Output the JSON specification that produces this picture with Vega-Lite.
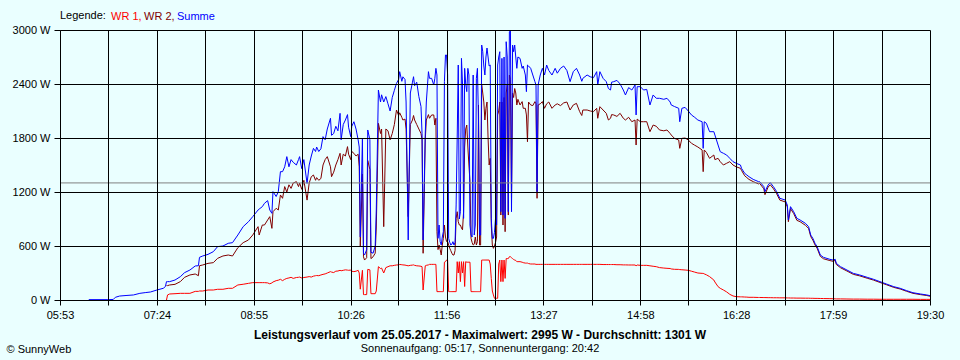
{
  "$schema": "https://vega.github.io/schema/vega-lite/v6.json",
  "width": 870,
  "height": 270,
  "autosize": {"type": "none"},
  "padding": {"left": 60, "top": 30, "right": 30, "bottom": 60},
  "background": "#EAFFFF",
  "config": {"view": {"stroke": null}},
  "title": {
    "text": "Leistungsverlauf vom 25.05.2017 - Maximalwert: 2995 W - Durchschnitt: 1301 W",
    "subtitle": "Sonnenaufgang: 05:17, Sonnenuntergang: 20:42",
    "orient": "bottom", "anchor": "middle", "frame": "group", "offset": -24, "dx": -15,
    "font": "Liberation Sans", "fontSize": 12, "fontWeight": "bold", "color": "#000000",
    "subtitleFont": "Liberation Sans", "subtitleFontSize": 11, "subtitleColor": "#000000", "subtitlePadding": 1
  },
  "data": {
    "format": {"parse": {"t": "utc:'%H:%M'"}},
    "values": [
      {"t":"06:20","Summe":4},{"t":"06:38","Summe":4},{"t":"06:43","Summe":6},{"t":"06:45","Summe":30},
      {"t":"06:49","Summe":44},{"t":"06:55","Summe":50},{"t":"07:02","Summe":56},{"t":"07:08","Summe":74},
      {"t":"07:13","Summe":82},{"t":"07:18","Summe":89},{"t":"07:24","Summe":111},{"t":"07:30","Summe":130},
      {"t":"07:32","Summe":150},
      {"t":"07:33","WR 1":0,"WR 2":160,"Summe":204},{"t":"07:34","WR 1":56,"WR 2":160,"Summe":204},
      {"t":"07:36","WR 1":67,"WR 2":167,"Summe":204},{"t":"07:41","WR 1":70,"WR 2":174,"Summe":222},
      {"t":"07:46","WR 1":74,"WR 2":204,"Summe":259},{"t":"07:50","WR 1":74,"WR 2":252,"Summe":304},
      {"t":"07:55","WR 1":74,"WR 2":278,"Summe":333},{"t":"08:00","WR 1":96,"WR 2":289,"Summe":378},
      {"t":"08:03","WR 1":96,"WR 2":270,"Summe":381},{"t":"08:04","WR 1":100,"WR 2":381,"Summe":474},
      {"t":"08:07","WR 1":100,"WR 2":389,"Summe":489},{"t":"08:12","WR 1":111,"WR 2":407,"Summe":507},
      {"t":"08:17","WR 1":111,"WR 2":415,"Summe":537},{"t":"08:21","WR 1":119,"WR 2":463,"Summe":593},
      {"t":"08:26","WR 1":119,"WR 2":489,"Summe":600},{"t":"08:31","WR 1":130,"WR 2":500,"Summe":630},
      {"t":"08:35","WR 1":130,"WR 2":489,"Summe":637},{"t":"08:40","WR 1":167,"WR 2":581,"Summe":722},
      {"t":"08:45","WR 1":175,"WR 2":637,"Summe":815},{"t":"08:50","WR 1":185,"WR 2":667,"Summe":870},
      {"t":"08:54","WR 1":193,"WR 2":722,"Summe":926},{"t":"08:59","WR 1":193,"WR 2":815,"Summe":1000},
      {"t":"09:00","WR 1":193,"WR 2":722,"Summe":1010},{"t":"09:03","WR 1":193,"WR 2":833,"Summe":1037},
      {"t":"09:05","WR 1":193,"WR 2":833,"Summe":1074},{"t":"09:08","WR 1":190,"WR 2":889,"Summe":1104},
      {"t":"09:10","WR 1":180,"WR 2":926,"Summe":1000},{"t":"09:12","WR 1":190,"WR 2":796,"Summe":963},
      {"t":"09:13","WR 1":200,"WR 2":981,"Summe":1204},{"t":"09:16","WR 1":215,"WR 2":1019,"Summe":1150},
      {"t":"09:18","WR 1":220,"WR 2":1000,"Summe":1204},{"t":"09:20","WR 1":230,"WR 2":1167,"Summe":1426},
      {"t":"09:22","WR 1":215,"WR 2":1130,"Summe":1426},{"t":"09:24","WR 1":230,"WR 2":1260,"Summe":1480},
      {"t":"09:26","WR 1":240,"WR 2":1200,"Summe":1593},{"t":"09:28","WR 1":245,"WR 2":1280,"Summe":1480},
      {"t":"09:30","WR 1":252,"WR 2":1240,"Summe":1560},{"t":"09:32","WR 1":240,"WR 2":1300,"Summe":1530},
      {"t":"09:35","WR 1":250,"WR 2":1315,"Summe":1500},{"t":"09:37","WR 1":252,"WR 2":1260,"Summe":1560},
      {"t":"09:38","WR 1":255,"WR 2":1300,"Summe":1593},{"t":"09:40","WR 1":245,"WR 2":1230,"Summe":1460},
      {"t":"09:42","WR 1":250,"WR 2":1330,"Summe":1560},{"t":"09:45","WR 1":255,"WR 2":1110,"Summe":1296},
      {"t":"09:47","WR 1":260,"WR 2":1300,"Summe":1500},{"t":"09:49","WR 1":255,"WR 2":1370,"Summe":1600},
      {"t":"09:51","WR 1":265,"WR 2":1389,"Summe":1685},{"t":"09:53","WR 1":270,"WR 2":1330,"Summe":1650},
      {"t":"09:54","WR 1":272,"WR 2":1360,"Summe":1700},{"t":"09:56","WR 1":270,"WR 2":1330,"Summe":1650},
      {"t":"09:58","WR 1":278,"WR 2":1350,"Summe":1680},{"t":"10:00","WR 1":285,"WR 2":1500,"Summe":1815},
      {"t":"10:02","WR 1":290,"WR 2":1560,"Summe":1780},{"t":"10:04","WR 1":300,"WR 2":1593,"Summe":1900},
      {"t":"10:07","WR 1":315,"WR 2":1480,"Summe":2019},{"t":"10:08","WR 1":310,"WR 2":1370,"Summe":1830},
      {"t":"10:10","WR 1":305,"WR 2":1420,"Summe":1850},{"t":"10:12","WR 1":320,"WR 2":1500,"Summe":1930},
      {"t":"10:14","WR 1":322,"WR 2":1560,"Summe":1880},{"t":"10:16","WR 1":330,"WR 2":1630,"Summe":2074},
      {"t":"10:17","WR 1":325,"WR 2":1500,"Summe":1780},{"t":"10:19","WR 1":330,"WR 2":1620,"Summe":1950},
      {"t":"10:21","WR 1":335,"WR 2":1600,"Summe":2000},{"t":"10:23","WR 1":332,"WR 2":1704,"Summe":2060},
      {"t":"10:24","WR 1":330,"WR 2":1620,"Summe":1920},{"t":"10:26","WR 1":333,"WR 2":1560,"Summe":1815},
      {"t":"10:27","WR 1":320,"WR 2":1650,"Summe":1930},{"t":"10:29","WR 1":315,"WR 2":1630,"Summe":1981},
      {"t":"10:31","WR 1":320,"WR 2":1600,"Summe":1900},{"t":"10:33","WR 1":330,"WR 2":1620,"Summe":1778},
      {"t":"10:34","WR 1":300,"WR 2":1480,"Summe":1700},{"t":"10:35","WR 1":120,"WR 2":600,"Summe":700},
      {"t":"10:37","WR 1":330,"WR 2":1400,"Summe":1800},{"t":"10:38","WR 1":60,"WR 2":480,"Summe":519},
      {"t":"10:39","WR 1":60,"WR 2":444,"Summe":500},{"t":"10:41","WR 1":60,"WR 2":470,"Summe":560},
      {"t":"10:42","WR 1":340,"WR 2":1550,"Summe":1889},{"t":"10:44","WR 1":335,"WR 2":1450,"Summe":1780},
      {"t":"10:45","WR 1":70,"WR 2":460,"Summe":530},{"t":"10:47","WR 1":70,"WR 2":480,"Summe":520},
      {"t":"10:49","WR 1":70,"WR 2":520,"Summe":600},{"t":"10:50","WR 1":100,"WR 2":800,"Summe":1000},
      {"t":"10:52","WR 1":370,"WR 2":1963,"Summe":2333},{"t":"10:54","WR 1":350,"WR 2":1850,"Summe":2200},
      {"t":"10:55","WR 1":355,"WR 2":1900,"Summe":2280},{"t":"10:57","WR 1":300,"WR 2":815,"Summe":2200},
      {"t":"10:59","WR 1":360,"WR 2":1900,"Summe":2260},{"t":"11:01","WR 1":370,"WR 2":1880,"Summe":2180},
      {"t":"11:03","WR 1":380,"WR 2":1780,"Summe":2100},{"t":"11:05","WR 1":380,"WR 2":1850,"Summe":2250},
      {"t":"11:07","WR 1":385,"WR 2":1950,"Summe":2330},{"t":"11:09","WR 1":389,"WR 2":2111,"Summe":2407},
      {"t":"11:11","WR 1":390,"WR 2":2050,"Summe":2450},{"t":"11:12","WR 1":395,"WR 2":2080,"Summe":2537},
      {"t":"11:14","WR 1":392,"WR 2":2030,"Summe":2430},{"t":"11:15","WR 1":390,"WR 2":2000,"Summe":2480},
      {"t":"11:17","WR 1":388,"WR 2":2010,"Summe":2450},{"t":"11:18","WR 1":385,"WR 2":1900,"Summe":2200},
      {"t":"11:20","WR 1":380,"WR 2":926,"Summe":667},{"t":"11:22","WR 1":385,"WR 2":1950,"Summe":2300},
      {"t":"11:24","WR 1":388,"WR 2":2000,"Summe":2420},{"t":"11:25","WR 1":390,"WR 2":2050,"Summe":2481},
      {"t":"11:26","WR 1":385,"WR 2":2000,"Summe":2380},{"t":"11:28","WR 1":380,"WR 2":1950,"Summe":2420},
      {"t":"11:30","WR 1":378,"WR 2":1900,"Summe":2260},{"t":"11:32","WR 1":375,"WR 2":1850,"Summe":2150},
      {"t":"11:33","WR 1":370,"WR 2":1780,"Summe":1850},{"t":"11:34","WR 1":111,"WR 2":519,"Summe":667},
      {"t":"11:36","WR 1":380,"WR 2":1780,"Summe":1850},{"t":"11:37","WR 1":385,"WR 2":2000,"Summe":2200},
      {"t":"11:39","WR 1":390,"WR 2":2060,"Summe":2537},{"t":"11:40","WR 1":396,"WR 2":2019,"Summe":2463},
      {"t":"11:42","WR 1":396,"WR 2":2056,"Summe":2463},{"t":"11:44","WR 1":396,"WR 2":2056,"Summe":2389},
      {"t":"11:45","WR 1":396,"WR 2":1944,"Summe":2463},{"t":"11:46","WR 1":396,"WR 2":2019,"Summe":2574},
      {"t":"11:47","WR 1":93,"WR 2":759,"Summe":2500},{"t":"11:48","WR 1":93,"WR 2":560,"Summe":685},
      {"t":"11:49","WR 1":93,"WR 2":611,"Summe":833},{"t":"11:50","WR 1":93,"WR 2":560,"Summe":648},
      {"t":"11:51","WR 1":93,"WR 2":500,"Summe":611},{"t":"11:52","WR 1":93,"WR 2":611,"Summe":700},
      {"t":"11:53","WR 1":93,"WR 2":685,"Summe":759},{"t":"11:54","WR 1":420,"WR 2":833,"Summe":2426},
      {"t":"11:55","WR 1":426,"WR 2":700,"Summe":2722},{"t":"11:56","WR 1":444,"WR 2":650,"Summe":2722},
      {"t":"11:57","WR 1":444,"WR 2":650,"Summe":2500},{"t":"11:58","WR 1":93,"WR 2":611,"Summe":685},
      {"t":"11:59","WR 1":93,"WR 2":574,"Summe":640},{"t":"12:00","WR 1":93,"WR 2":548,"Summe":611},
      {"t":"12:01","WR 1":93,"WR 2":520,"Summe":620},{"t":"12:02","WR 1":93,"WR 2":500,"Summe":648},
      {"t":"12:03","WR 1":93,"WR 2":500,"Summe":611},{"t":"12:04","WR 1":93,"WR 2":550,"Summe":640},
      {"t":"12:05","WR 1":93,"WR 2":907,"Summe":1056},{"t":"12:06","WR 1":426,"WR 2":981,"Summe":1800},
      {"t":"12:07","WR 1":300,"WR 2":870,"Summe":2611},{"t":"12:08","WR 1":426,"WR 2":833,"Summe":900},
      {"t":"12:09","WR 1":204,"WR 2":833,"Summe":981},{"t":"12:10","WR 1":426,"WR 2":800,"Summe":2685},
      {"t":"12:11","WR 1":300,"WR 2":780,"Summe":2400},{"t":"12:12","WR 1":426,"WR 2":981,"Summe":907},
      {"t":"12:13","WR 1":150,"WR 2":1700,"Summe":2574},{"t":"12:14","WR 1":426,"WR 2":1900,"Summe":2400},
      {"t":"12:15","WR 1":420,"WR 2":1944,"Summe":2315},{"t":"12:16","WR 1":420,"WR 2":1700,"Summe":2574},
      {"t":"12:17","WR 1":420,"WR 2":1500,"Summe":2500},{"t":"12:18","WR 1":420,"WR 2":1315,"Summe":833},
      {"t":"12:19","WR 1":93,"WR 2":685,"Summe":722},{"t":"12:20","WR 1":93,"WR 2":640,"Summe":700},
      {"t":"12:21","WR 1":93,"WR 2":611,"Summe":2500},{"t":"12:22","WR 1":93,"WR 2":620,"Summe":722},
      {"t":"12:23","WR 1":93,"WR 2":700,"Summe":833},{"t":"12:24","WR 1":93,"WR 2":611,"Summe":2463},
      {"t":"12:25","WR 1":93,"WR 2":650,"Summe":2574},{"t":"12:26","WR 1":93,"WR 2":2167,"Summe":2000},
      {"t":"12:27","WR 1":93,"WR 2":611,"Summe":722},{"t":"12:28","WR 1":93,"WR 2":611,"Summe":722},
      {"t":"12:29","WR 1":444,"WR 2":2389,"Summe":2833},{"t":"12:30","WR 1":444,"WR 2":2300,"Summe":2759},
      {"t":"12:31","WR 1":444,"WR 2":2200,"Summe":2600},{"t":"12:32","WR 1":444,"WR 2":2000,"Summe":2500},
      {"t":"12:33","WR 1":444,"WR 2":2130,"Summe":2700},{"t":"12:34","WR 1":444,"WR 2":2200,"Summe":2800},
      {"t":"12:35","WR 1":444,"WR 2":1800,"Summe":2700},{"t":"12:36","WR 1":444,"WR 2":1500,"Summe":2600},
      {"t":"12:37","WR 1":400,"WR 2":1574,"Summe":2611},{"t":"12:38","WR 1":240,"WR 2":833,"Summe":907},
      {"t":"12:39","WR 1":100,"WR 2":611,"Summe":685},{"t":"12:40","WR 1":56,"WR 2":574,"Summe":685},
      {"t":"12:41","WR 1":19,"WR 2":600,"Summe":750},{"t":"12:42","WR 1":19,"WR 2":640,"Summe":907},
      {"t":"12:43","WR 1":19,"WR 2":700,"Summe":833},{"t":"12:44","WR 1":19,"WR 2":2056,"Summe":2611},
      {"t":"12:45","WR 1":400,"WR 2":2100,"Summe":2700},{"t":"12:46","WR 1":444,"WR 2":2200,"Summe":2759},
      {"t":"12:47","WR 1":204,"WR 2":944,"Summe":981},{"t":"12:48","WR 1":444,"WR 2":2200,"Summe":2685},
      {"t":"12:49","WR 1":204,"WR 2":833,"Summe":944},{"t":"12:50","WR 1":444,"WR 2":2250,"Summe":2700},
      {"t":"12:51","WR 1":240,"WR 2":759,"Summe":907},{"t":"12:52","WR 1":460,"WR 2":2300,"Summe":2870},
      {"t":"12:53","WR 1":460,"WR 2":2389,"Summe":2700},{"t":"12:54","WR 1":460,"WR 2":944,"Summe":981},
      {"t":"12:55","WR 1":481,"WR 2":2500,"Summe":2981},{"t":"12:56","WR 1":481,"WR 2":2450,"Summe":2995},
      {"t":"12:57","WR 1":470,"WR 2":1100,"Summe":981},{"t":"12:58","WR 1":460,"WR 2":2300,"Summe":2833},
      {"t":"12:59","WR 1":450,"WR 2":2250,"Summe":2759},{"t":"13:00","WR 1":444,"WR 2":2350,"Summe":2833},
      {"t":"13:01","WR 1":440,"WR 2":2300,"Summe":2700},{"t":"13:02","WR 1":426,"WR 2":2167,"Summe":2574},
      {"t":"13:03","WR 1":426,"WR 2":2230,"Summe":2700},{"t":"13:05","WR 1":426,"WR 2":2167,"Summe":2685},
      {"t":"13:07","WR 1":420,"WR 2":2204,"Summe":2574},{"t":"13:08","WR 1":415,"WR 2":2130,"Summe":2600},
      {"t":"13:10","WR 1":410,"WR 2":2130,"Summe":2500},{"t":"13:11","WR 1":410,"WR 2":2056,"Summe":2315},
      {"t":"13:12","WR 1":410,"WR 2":1759,"Summe":2611},{"t":"13:13","WR 1":405,"WR 2":2200,"Summe":2600},
      {"t":"13:15","WR 1":400,"WR 2":2167,"Summe":2574},{"t":"13:17","WR 1":400,"WR 2":2160,"Summe":2500},
      {"t":"13:19","WR 1":400,"WR 2":2204,"Summe":2426},{"t":"13:20","WR 1":396,"WR 2":2180,"Summe":2389},
      {"t":"13:21","WR 1":396,"WR 2":1130,"Summe":1204},{"t":"13:22","WR 1":396,"WR 2":2167,"Summe":2389},
      {"t":"13:24","WR 1":396,"WR 2":2180,"Summe":2500},{"t":"13:26","WR 1":396,"WR 2":2204,"Summe":2574},
      {"t":"13:28","WR 1":396,"WR 2":2130,"Summe":2500},{"t":"13:30","WR 1":396,"WR 2":2180,"Summe":2611},
      {"t":"13:32","WR 1":396,"WR 2":2200,"Summe":2550},{"t":"13:35","WR 1":396,"WR 2":2130,"Summe":2500},
      {"t":"13:38","WR 1":396,"WR 2":2167,"Summe":2574},{"t":"13:40","WR 1":396,"WR 2":2180,"Summe":2520},
      {"t":"13:43","WR 1":396,"WR 2":2160,"Summe":2574},{"t":"13:46","WR 1":396,"WR 2":2190,"Summe":2600},
      {"t":"13:49","WR 1":396,"WR 2":2200,"Summe":2550},{"t":"13:52","WR 1":396,"WR 2":2111,"Summe":2426},
      {"t":"13:55","WR 1":396,"WR 2":2167,"Summe":2537},{"t":"13:58","WR 1":396,"WR 2":2185,"Summe":2574},
      {"t":"14:01","WR 1":396,"WR 2":2093,"Summe":2500},{"t":"14:03","WR 1":396,"WR 2":2050,"Summe":2430},
      {"t":"14:04","WR 1":396,"WR 2":2111,"Summe":2463},{"t":"14:08","WR 1":396,"WR 2":2111,"Summe":2500},
      {"t":"14:11","WR 1":396,"WR 2":2100,"Summe":2480},{"t":"14:14","WR 1":396,"WR 2":2093,"Summe":2470},
      {"t":"14:17","WR 1":396,"WR 2":2130,"Summe":2537},{"t":"14:18","WR 1":396,"WR 2":2019,"Summe":2389},
      {"t":"14:20","WR 1":396,"WR 2":2148,"Summe":2537},{"t":"14:23","WR 1":394,"WR 2":2111,"Summe":2463},
      {"t":"14:26","WR 1":394,"WR 2":2074,"Summe":2426},{"t":"14:28","WR 1":394,"WR 2":2000,"Summe":2350},
      {"t":"14:30","WR 1":394,"WR 2":2019,"Summe":2333},{"t":"14:31","WR 1":394,"WR 2":2060,"Summe":2420},
      {"t":"14:33","WR 1":394,"WR 2":2056,"Summe":2426},{"t":"14:36","WR 1":392,"WR 2":2040,"Summe":2440},
      {"t":"14:39","WR 1":392,"WR 2":2074,"Summe":2400},{"t":"14:42","WR 1":390,"WR 2":2019,"Summe":2333},
      {"t":"14:44","WR 1":390,"WR 2":2000,"Summe":2278},{"t":"14:47","WR 1":389,"WR 2":2030,"Summe":2360},
      {"t":"14:50","WR 1":389,"WR 2":1981,"Summe":2333},{"t":"14:53","WR 1":389,"WR 2":2000,"Summe":2389},
      {"t":"14:54","WR 1":380,"WR 2":1722,"Summe":2056},{"t":"14:55","WR 1":389,"WR 2":2010,"Summe":2370},
      {"t":"14:58","WR 1":385,"WR 2":1981,"Summe":2370},{"t":"15:01","WR 1":385,"WR 2":1981,"Summe":2333},
      {"t":"15:04","WR 1":385,"WR 2":1981,"Summe":2340},{"t":"15:07","WR 1":380,"WR 2":1870,"Summe":2167},
      {"t":"15:10","WR 1":375,"WR 2":1944,"Summe":2278},{"t":"15:13","WR 1":370,"WR 2":1930,"Summe":2241},
      {"t":"15:16","WR 1":360,"WR 2":1889,"Summe":2241},{"t":"15:20","WR 1":355,"WR 2":1880,"Summe":2230},
      {"t":"15:23","WR 1":352,"WR 2":1889,"Summe":2241},{"t":"15:26","WR 1":350,"WR 2":1850,"Summe":2200},
      {"t":"15:27","WR 1":345,"WR 2":1833,"Summe":2167},{"t":"15:30","WR 1":341,"WR 2":1796,"Summe":2150},
      {"t":"15:34","WR 1":340,"WR 2":1778,"Summe":2130},{"t":"15:35","WR 1":338,"WR 2":1685,"Summe":1981},
      {"t":"15:37","WR 1":336,"WR 2":1796,"Summe":2130},{"t":"15:40","WR 1":333,"WR 2":1800,"Summe":2140},
      {"t":"15:43","WR 1":330,"WR 2":1778,"Summe":2100},{"t":"15:46","WR 1":320,"WR 2":1741,"Summe":2056},
      {"t":"15:49","WR 1":310,"WR 2":1720,"Summe":2030},{"t":"15:52","WR 1":300,"WR 2":1700,"Summe":2000},
      {"t":"15:56","WR 1":296,"WR 2":1667,"Summe":1981},{"t":"15:57","WR 1":296,"WR 2":1426,"Summe":1685},
      {"t":"15:58","WR 1":290,"WR 2":1667,"Summe":1981},{"t":"16:00","WR 1":280,"WR 2":1640,"Summe":1963},
      {"t":"16:03","WR 1":260,"WR 2":1574,"Summe":1870},{"t":"16:07","WR 1":222,"WR 2":1611,"Summe":1870},
      {"t":"16:08","WR 1":200,"WR 2":1560,"Summe":1833},{"t":"16:11","WR 1":148,"WR 2":1574,"Summe":1722},
      {"t":"16:13","WR 1":130,"WR 2":1537,"Summe":1648},{"t":"16:16","WR 1":111,"WR 2":1500,"Summe":1630},
      {"t":"16:19","WR 1":90,"WR 2":1519,"Summe":1611},{"t":"16:22","WR 1":63,"WR 2":1537,"Summe":1574},
      {"t":"16:25","WR 1":45,"WR 2":1500,"Summe":1537},{"t":"16:28","WR 1":37,"WR 2":1480,"Summe":1519},
      {"t":"16:32","WR 1":35,"WR 2":1463,"Summe":1500},{"t":"16:33","WR 1":35,"WR 2":1440,"Summe":1463},
      {"t":"16:36","WR 1":33,"WR 2":1380,"Summe":1407},{"t":"16:38","WR 1":32,"WR 2":1360,"Summe":1389},
      {"t":"16:40","WR 1":30,"WR 2":1340,"Summe":1370},{"t":"16:44","WR 1":30,"WR 2":1315,"Summe":1340},
      {"t":"16:49","WR 1":28,"WR 2":1290,"Summe":1315},{"t":"16:50","WR 1":28,"WR 2":1296,"Summe":1315},
      {"t":"16:54","WR 1":27,"WR 2":1235,"Summe":1259},{"t":"16:55","WR 1":27,"WR 2":1170,"Summe":1204},
      {"t":"16:58","WR 1":26,"WR 2":1255,"Summe":1278},{"t":"17:00","WR 1":26,"WR 2":1280,"Summe":1304},
      {"t":"17:03","WR 1":25,"WR 2":1236,"Summe":1259},{"t":"17:06","WR 1":25,"WR 2":1180,"Summe":1204},
      {"t":"17:09","WR 1":24,"WR 2":1110,"Summe":1130},{"t":"17:14","WR 1":24,"WR 2":1090,"Summe":1111},
      {"t":"17:16","WR 1":23,"WR 2":1035,"Summe":1056},{"t":"17:17","WR 1":23,"WR 2":870,"Summe":889},
      {"t":"17:19","WR 1":22,"WR 2":1015,"Summe":1037},{"t":"17:22","WR 1":22,"WR 2":960,"Summe":981},
      {"t":"17:25","WR 1":21,"WR 2":885,"Summe":907},{"t":"17:28","WR 1":21,"WR 2":870,"Summe":889},
      {"t":"17:33","WR 1":20,"WR 2":830,"Summe":852},{"t":"17:36","WR 1":20,"WR 2":795,"Summe":815},
      {"t":"17:38","WR 1":19,"WR 2":705,"Summe":722},{"t":"17:40","WR 1":19,"WR 2":665,"Summe":685},
      {"t":"17:42","WR 1":18,"WR 2":612,"Summe":630},{"t":"17:44","WR 1":18,"WR 2":575,"Summe":593},
      {"t":"17:47","WR 1":17,"WR 2":485,"Summe":500},{"t":"17:50","WR 1":16,"WR 2":458,"Summe":474},
      {"t":"17:56","WR 1":15,"WR 2":438,"Summe":452},{"t":"17:59","WR 1":14,"WR 2":430,"Summe":444},
      {"t":"18:01","WR 1":13,"WR 2":440,"Summe":452},{"t":"18:02","WR 1":12,"WR 2":395,"Summe":407},
      {"t":"18:06","WR 1":12,"WR 2":358,"Summe":370},{"t":"18:12","WR 1":11,"WR 2":322,"Summe":333},
      {"t":"18:18","WR 1":10,"WR 2":285,"Summe":296},{"t":"18:24","WR 1":10,"WR 2":268,"Summe":278},
      {"t":"18:31","WR 1":9,"WR 2":242,"Summe":252},{"t":"18:37","WR 1":9,"WR 2":221,"Summe":230},
      {"t":"18:43","WR 1":8,"WR 2":195,"Summe":204},{"t":"18:49","WR 1":8,"WR 2":170,"Summe":178},
      {"t":"18:56","WR 1":8,"WR 2":140,"Summe":148},{"t":"19:02","WR 1":8,"WR 2":122,"Summe":130},
      {"t":"19:08","WR 1":8,"WR 2":97,"Summe":104},{"t":"19:14","WR 1":8,"WR 2":74,"Summe":81},
      {"t":"19:21","WR 1":7,"WR 2":60,"Summe":67},{"t":"19:27","WR 1":7,"WR 2":50,"Summe":56},
      {"t":"19:30","WR 1":7,"WR 2":42,"Summe":48}
    ]
  },
  "layer": [
    {
      "transform": [{"fold": ["WR 1", "WR 2", "Summe"], "as": ["serie", "W"]}],
      "encoding": {
        "x": {
          "field": "t", "type": "temporal",
          "scale": {"type": "utc", "nice": false, "domain": [
            {"year": 1900, "month": 1, "date": 1, "hours": 5, "minutes": 53, "utc": true},
            {"year": 1900, "month": 1, "date": 1, "hours": 19, "minutes": 30, "utc": true}]},
          "axis": {
            "values": [
              {"year": 1900, "month": 1, "date": 1, "hours": 5, "minutes": 53, "utc": true},
              {"year": 1900, "month": 1, "date": 1, "hours": 6, "minutes": 38, "seconds": 23, "utc": true},
              {"year": 1900, "month": 1, "date": 1, "hours": 7, "minutes": 24, "utc": true},
              {"year": 1900, "month": 1, "date": 1, "hours": 8, "minutes": 9, "seconds": 10, "utc": true},
              {"year": 1900, "month": 1, "date": 1, "hours": 8, "minutes": 55, "utc": true},
              {"year": 1900, "month": 1, "date": 1, "hours": 9, "minutes": 39, "seconds": 57, "utc": true},
              {"year": 1900, "month": 1, "date": 1, "hours": 10, "minutes": 26, "utc": true},
              {"year": 1900, "month": 1, "date": 1, "hours": 11, "minutes": 10, "seconds": 43, "utc": true},
              {"year": 1900, "month": 1, "date": 1, "hours": 11, "minutes": 56, "utc": true},
              {"year": 1900, "month": 1, "date": 1, "hours": 12, "minutes": 41, "seconds": 30, "utc": true},
              {"year": 1900, "month": 1, "date": 1, "hours": 13, "minutes": 27, "utc": true},
              {"year": 1900, "month": 1, "date": 1, "hours": 14, "minutes": 12, "seconds": 17, "utc": true},
              {"year": 1900, "month": 1, "date": 1, "hours": 14, "minutes": 58, "utc": true},
              {"year": 1900, "month": 1, "date": 1, "hours": 15, "minutes": 43, "seconds": 3, "utc": true},
              {"year": 1900, "month": 1, "date": 1, "hours": 16, "minutes": 28, "utc": true},
              {"year": 1900, "month": 1, "date": 1, "hours": 17, "minutes": 13, "seconds": 50, "utc": true},
              {"year": 1900, "month": 1, "date": 1, "hours": 17, "minutes": 59, "utc": true},
              {"year": 1900, "month": 1, "date": 1, "hours": 18, "minutes": 44, "seconds": 37, "utc": true},
              {"year": 1900, "month": 1, "date": 1, "hours": 19, "minutes": 30, "utc": true}
            ],
            "labelExpr": "utcseconds(datum.value) == 0 ? utcFormat(datum.value, '%H:%M') : ''",
            "grid": true, "gridColor": "#000000", "gridOpacity": 1, "gridWidth": 1,
            "domain": true, "domainColor": "#000000", "domainWidth": 1,
            "ticks": true, "tickColor": "#000000", "tickSize": 5, "tickWidth": 1,
            "labelColor": "#000000", "labelFont": "Liberation Sans", "labelFontSize": 11,
            "labelPadding": 4, "labelOverlap": false, "labelFlush": false, "labelBound": false,
            "title": null, "zindex": 1
          }
        },
        "y": {
          "field": "W", "type": "quantitative",
          "scale": {"domain": [0, 3000], "nice": false},
          "axis": {
            "values": [0, 600, 1200, 1800, 2400, 3000],
            "labelExpr": "datum.value + ' W'",
            "grid": true, "gridColor": "#000000", "gridOpacity": 1, "gridWidth": 1,
            "domain": true, "domainColor": "#000000",
            "ticks": true, "tickColor": "#000000", "tickSize": 6,
            "labelColor": "#000000", "labelFont": "Liberation Sans", "labelFontSize": 11, "labelPadding": 4,
            "labelOverlap": false, "labelBound": false, "labelFlush": false,
            "title": "© SunnyWeb", "titleAngle": 0, "titleX": -54, "titleY": 322,
            "titleAlign": "left", "titleBaseline": "alphabetic", "titleFont": "Liberation Sans",
            "titleFontSize": 11, "titleFontWeight": "normal", "titleColor": "#000000",
            "zindex": 1
          }
        },
        "color": {
          "field": "serie", "type": "nominal",
          "scale": {"domain": ["WR 1", "WR 2", "Summe"], "range": ["#FF0000", "#800000", "#0000FF"]},
          "legend": {
            "title": "Legende:", "orient": "none", "legendX": 0, "legendY": -19, "direction": "horizontal",
            "titleOrient": "left", "titleFont": "Liberation Sans", "titleFontSize": 11, "titleFontWeight": "normal",
            "titleColor": "#000000", "titlePadding": 4,
            "labelFont": "Liberation Sans", "labelFontSize": 11,
            "labelExpr": "datum.label == 'Summe' ? datum.label : datum.label + ','",
            "symbolSize": 0, "symbolOpacity": 0, "symbolStrokeWidth": 0, "labelOffset": -10, "columnPadding": 1,
            "padding": 0,
            "encode": {"labels": {"update": {"fill": {"scale": "color", "field": "value"}}}}
          }
        }
      },
      "layer": [
        {"transform": [{"filter": "datum.serie == 'WR 1'"}], "mark": {"type": "line", "strokeWidth": 1}},
        {"transform": [{"filter": "datum.serie == 'WR 2'"}], "mark": {"type": "line", "strokeWidth": 1}},
        {"transform": [{"filter": "datum.serie == 'Summe'"}], "mark": {"type": "line", "strokeWidth": 1}}
      ]
    },
    {
      "data": {"values": [{"Durchschnitt": 1301}]},
      "mark": {"type": "rule", "color": "#808080", "strokeWidth": 1},
      "encoding": {
        "y": {"field": "Durchschnitt", "type": "quantitative", "title": "© SunnyWeb", "scale": {"domain": [0, 3000], "nice": false}}
      }
    }
  ]
}
